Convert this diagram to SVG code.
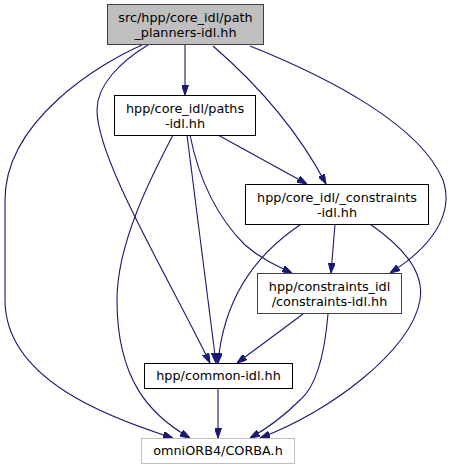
<svg xmlns="http://www.w3.org/2000/svg" width="453" height="469" viewBox="0 0 453 469">
<style>
text{font-family:"DejaVu Sans","Liberation Sans",sans-serif;font-size:12.8px;fill:#000;text-anchor:middle}
.box{fill:#fff;stroke:#000;stroke-width:1}
.cur{fill:#bfbfbf;stroke:#404040;stroke-width:1}
.dk{fill:#fff;stroke:#404040;stroke-width:1}
.lt{fill:#fff;stroke:#bfbfbf;stroke-width:1}
.e{fill:none;stroke:#191970;stroke-width:1.1;marker-end:url(#ah)}
</style>
<defs>
<marker id="ah" viewBox="0 0 10 7" refX="10" refY="3.5" markerWidth="10" markerHeight="7" markerUnits="userSpaceOnUse" orient="auto">
<path d="M0,0 L10,3.5 L0,7 z" fill="#191970" stroke="#191970"/>
</marker>
</defs>
<rect width="453" height="469" fill="#fff"/>
<g id="edges">
<path class="e" d="M185,45 L185,95"/>
<path class="e" d="M213,46 C250,78 295,125 326,184"/>
<path class="e" d="M250,46 C330,78 420,125 443,180 C455,215 430,248 390,273"/>
<path class="e" d="M148,45 C120,62 97,85 97,110 C97,160 170,280 210,363"/>
<path class="e" d="M142,45 C101,63 5,120 5,200 L5,300 C5,380 110,418 173,438"/>
<path class="e" d="M218,135 L307,184"/>
<path class="e" d="M190,135 C198,175 215,215 245,245 C260,258 275,265 292,273"/>
<path class="e" d="M187,135 L216,363"/>
<path class="e" d="M173,135 C155,170 117,240 117,300 C117,380 150,415 190,438"/>
<path class="e" d="M335,224 L331,273"/>
<path class="e" d="M300,225 C270,245 225,285 218,363"/>
<path class="e" d="M370,224 C400,245 425,270 420,300 C412,350 330,412 260,438"/>
<path class="e" d="M303,314 L237,363"/>
<path class="e" d="M328,314 C325,350 318,385 300,400 C285,415 268,428 250,438"/>
<path class="e" d="M218,388 L218,438"/>
</g>
<g id="node-top">
<rect class="cur" x="107.5" y="4.5" width="156" height="40"/>
<text x="185.5" y="21.5">src/hpp/core_idl/path</text>
<text x="185.5" y="36.5">_planners-idl.hh</text>
</g>
<g id="node-paths">
<rect class="box" x="114.5" y="95.5" width="141" height="40"/>
<text x="185" y="112.5">hpp/core_idl/paths</text>
<text x="185" y="127.5">-idl.hh</text>
</g>
<g id="node-core-constraints">
<rect class="box" x="245.5" y="184.5" width="183" height="40"/>
<text x="337" y="201.5">hpp/core_idl/_constraints</text>
<text x="337" y="216.5">-idl.hh</text>
</g>
<g id="node-constraints-idl">
<rect class="dk" x="257.5" y="273.5" width="144" height="40"/>
<text x="329.5" y="290.5">hpp/constraints_idl</text>
<text x="329.5" y="305.5">/constraints-idl.hh</text>
</g>
<g id="node-common">
<rect class="box" x="144.5" y="363.5" width="148" height="25"/>
<text x="218.5" y="379.5">hpp/common-idl.hh</text>
</g>
<g id="node-corba">
<rect class="lt" x="141.5" y="438.5" width="153" height="25"/>
<text x="218" y="454.5">omniORB4/CORBA.h</text>
</g>
</svg>
